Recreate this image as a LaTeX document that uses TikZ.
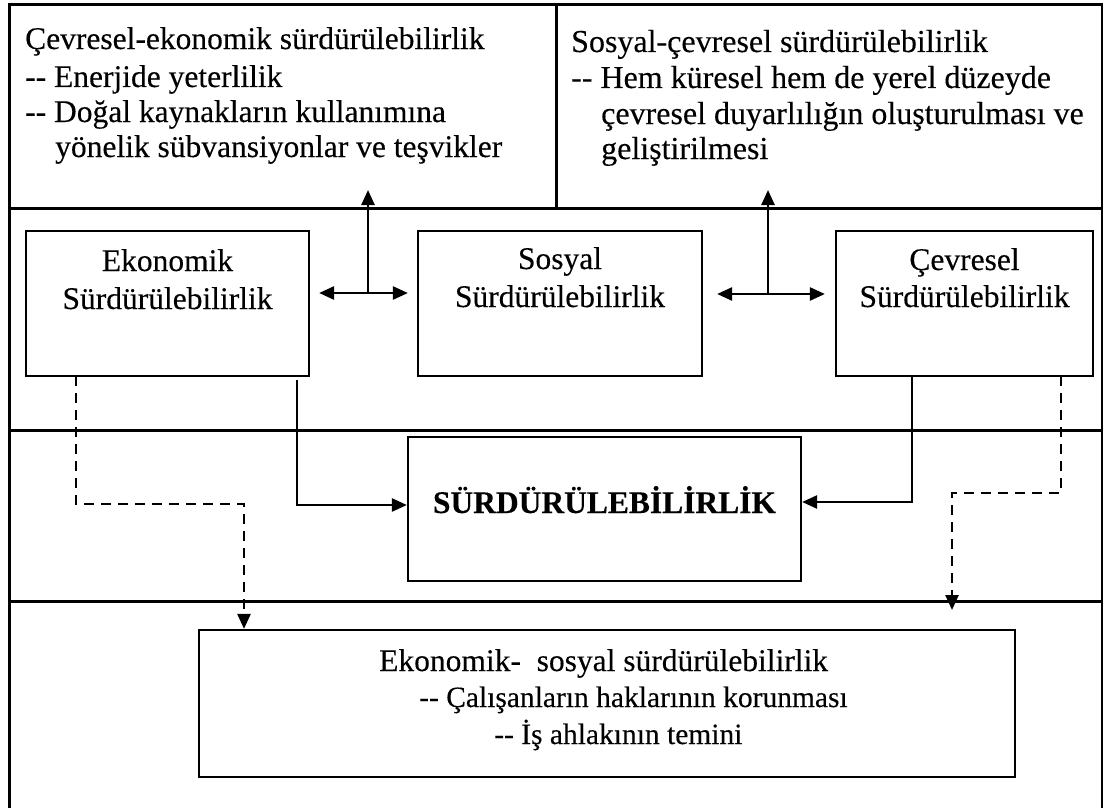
\documentclass[tikz,border=0pt]{standalone}
\usepackage{fontspec}
\setmainfont{Liberation Serif}[Ligatures=TeXOff,FakeBold=0.25]
\usetikzlibrary{arrows.meta,calc}
\begin{document}
\begin{tikzpicture}[x=1pt,y=-1pt,
  frame/.style={line width=3pt},
  box/.style={draw, line width=2.2pt, inner sep=0pt},
  lbl/.style={inner sep=0pt, font=\fontsize{31.5}{36}\selectfont},
  big/.style={inner sep=0pt, font=\fontsize{32}{36}\selectfont},
  sml/.style={inner sep=0pt, font=\fontsize{29.5}{34}\selectfont},
  arr/.style={line width=2.5pt, -{Triangle[length=15pt,width=13pt]}},
  dbl/.style={line width=2.5pt, {Triangle[length=15pt,width=13pt]}-{Triangle[length=15pt,width=13pt]}},
  dsh/.style={line width=2.5pt, dash pattern=on 10pt off 7pt, -{Triangle[length=15pt,width=13pt]}}]
\useasboundingbox (0,0) rectangle (1103,808);
\fill[white] (0,0) rectangle (1103,808);
% frame
\draw[frame] (9,5) rectangle (1102,815);
\draw[frame] (9,208) -- (1102,208);
\draw[frame] (9,430) -- (1102,430);
\draw[frame] (9,601) -- (1102,601);
\draw[frame] (556,5) -- (556,208);
% top texts
\node[lbl, anchor=base west] (tl1) at (25,49) {Çevresel-ekonomik sürdürülebilirlik};
\node[lbl, anchor=base west] (tl2) at (25,87) {-- Enerjide yeterlilik};
\node[lbl, anchor=base west] (tl3) at (25,122) {-- Doğal kaynakların kullanımına};
\node[lbl, anchor=base west] (tl4) at (55,157) {yönelik sübvansiyonlar ve teşvikler};
\node[big, anchor=base west] (tr1) at (571,52) {Sosyal-çevresel sürdürülebilirlik};
\node[big, anchor=base west] (tr2) at (571,88) {-- Hem küresel hem de yerel düzeyde};
\node[big, anchor=base west] (tr3) at (601,124) {çevresel duyarlılığın oluşturulması ve};
\node[big, anchor=base west] (tr4) at (601,159) {geliştirilmesi};
% boxes
\node[box, minimum width=283pt, minimum height=145pt] (eko) at (167.5,303.5) {};
\node[box, minimum width=284pt, minimum height=145pt] (sos) at (560,303.5) {};
\node[box, minimum width=257pt, minimum height=145pt] (cev) at (964.5,303.5) {};
\node[box, minimum width=393pt, minimum height=144pt] (surd) at (604.5,509) {};
\node[box, minimum width=816pt, minimum height=147pt] (bot) at (607,703.5) {};
% box texts
\node[lbl, anchor=base] (ekoa) at (167.5,271) {Ekonomik};
\node[lbl, anchor=base] (ekob) at (167.5,309) {Sürdürülebilirlik};
\node[lbl, anchor=base] (sosa) at (560,269) {Sosyal};
\node[lbl, anchor=base] (sosb) at (560,307) {Sürdürülebilirlik};
\node[lbl, anchor=base] (ceva) at (964.5,270) {Çevresel};
\node[lbl, anchor=base] (cevb) at (964.5,307) {Sürdürülebilirlik};
\node[lbl, anchor=base, font=\fontsize{31.5}{36}\selectfont\bfseries] (surdt) at (604.5,513) {SÜRDÜRÜLEBİLİRLİK};
\node[lbl, anchor=base west] (bt1) at (379,671) {Ekonomik-\ \ sosyal sürdürülebilirlik};
\node[sml, anchor=base west] (bt2) at (419,707) {-- Çalışanların haklarının korunması};
\node[sml, anchor=base west] (bt3) at (494,744) {-- İş ahlakının temini};
% connectors
\coordinate (m1) at (368,293);
\coordinate (t1) at (368,190);
\coordinate (m2) at (768,294);
\coordinate (t2) at (768,190);
\draw[dbl, shorten <=9pt, shorten >=9pt] (eko.east |- m1) -- (sos.west |- m1);
\draw[dbl, shorten <=14pt, shorten >=10pt] (sos.east |- m2) -- (cev.west |- m2);
\draw[arr] (m1) -- (t1);
\draw[arr] (m2) -- (t2);
\coordinate (s1) at (297,380);
\coordinate (s2) at (912,376);
\draw[arr] (s1) |- ([yshift=4pt]surd.west);
\draw[arr] (s2) |- ([yshift=7pt]surd.east);
\coordinate (e1) at (76,376);
\coordinate (d1) at (244,504);
\draw[dsh] (e1) |- (d1) -- (d1 |- bot.north);
\coordinate (e2) at (1061,376);
\coordinate (d2) at (952,493);
\coordinate (d2t) at (952,610);
\draw[dsh] (e2) |- (d2) -- (d2t);
\end{tikzpicture}
\end{document}
